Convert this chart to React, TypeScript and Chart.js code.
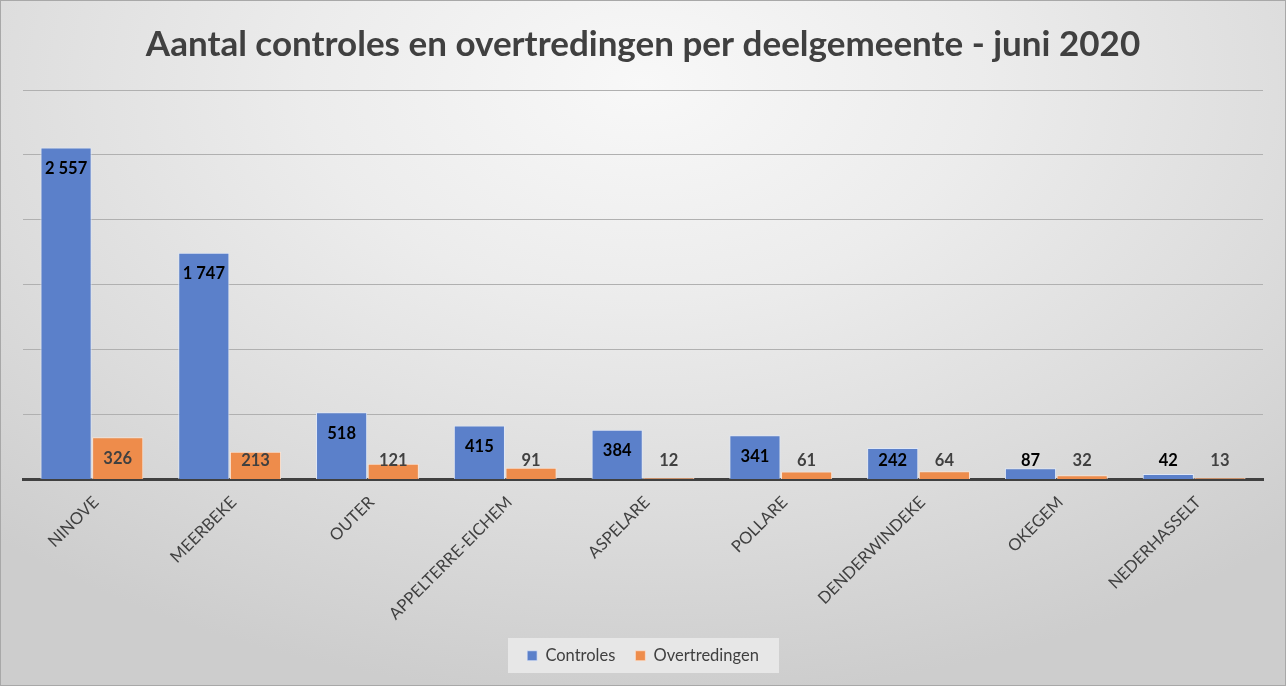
import React, { useEffect, useRef } from "react";
import { Chart, registerables } from "chart.js";

Chart.register(...registerables);

const categories = [
  "NINOVE",
  "MEERBEKE",
  "OUTER",
  "APPELTERRE-EICHEM",
  "ASPELARE",
  "POLLARE",
  "DENDERWINDEKE",
  "OKEGEM",
  "NEDERHASSELT",
];
const controles = [2557, 1747, 518, 415, 384, 341, 242, 87, 42];
const overtredingen = [326, 213, 121, 91, 12, 61, 64, 32, 13];
const seriesNames = ["Controles", "Overtredingen"];
const titleText = "Aantal controles en overtredingen per deelgemeente - juni 2020";

const FONT = "Lato, 'Open Sans', sans-serif";

function fmt(v: number): string {
  return String(v).replace(/\B(?=(\d{3})+(?!\d))/g, " ");
}

const labelPlugin = {
  id: "barLabels",
  beforeDraw(chart: any) {
    const ctx = chart.ctx;
    ctx.save();
    ctx.fillStyle = "rgba(235,235,235,0.85)";
    ctx.fillRect(507, 637, 271, 35);
    ctx.restore();
  },
  afterDatasetsDraw(chart: any) {
    const ctx = chart.ctx;
    const base = chart.scales.y.getPixelForValue(0);
    ctx.save();
    ctx.font = `bold 16.5px ${FONT}`;
    ctx.textAlign = "center";
    ctx.textBaseline = "middle";
    chart.data.datasets.forEach((ds: any, di: number) => {
      const meta = chart.getDatasetMeta(di);
      ctx.fillStyle = di === 0 ? "#000000" : "#404040";
      meta.data.forEach((bar: any, i: number) => {
        const y = Math.min(bar.y + 21, base - 19);
        ctx.fillText(fmt(ds.data[i]), bar.x, y);
      });
    });
    ctx.restore();
  },
};

export default function App() {
  const ref = useRef<HTMLCanvasElement>(null);
  useEffect(() => {
    if (!ref.current) return;
    const chart = new Chart(ref.current, {
      type: "bar",
      data: {
        labels: categories,
        datasets: [
          {
            label: seriesNames[0],
            data: controles,
            backgroundColor: "#5B80CA",
            borderColor: "#dfe7f6",
            borderWidth: { top: 1, left: 1, right: 1, bottom: 0 },
            categoryPercentage: 0.75,
            barPercentage: 0.99,
          },
          {
            label: seriesNames[1],
            data: overtredingen,
            backgroundColor: "#EE8C4B",
            borderColor: "#fbe2d2",
            borderWidth: { top: 1, left: 1, right: 1, bottom: 0 },
            categoryPercentage: 0.75,
            barPercentage: 0.99,
          },
        ],
      },
      plugins: [labelPlugin],
      options: {
        responsive: false,
        animation: false,
        devicePixelRatio: 1,
        layout: { padding: { left: 0, right: 0, top: 0, bottom: 11 } },
        plugins: {
          title: {
            display: true,
            text: titleText,
            color: "#404040",
            font: { family: FONT, size: 35, weight: "bold" },
            padding: { top: 23, bottom: 24 },
          },
          legend: {
            display: true,
            position: "bottom",
            labels: {
              color: "#404040",
              font: { family: FONT, size: 16.5 },
              boxWidth: 10,
              boxHeight: 10,
              padding: 20,
            },
          },
          tooltip: { enabled: false },
        },
        scales: {
          x: {
            grid: { display: false },
            border: { display: true, color: "#404040", width: 3 },
            ticks: {
              color: "#404040",
              font: { family: FONT, size: 16.5 },
              maxRotation: 45,
              minRotation: 45,
              padding: 5,
              labelOffset: 4,
            },
            afterFit(scale: any) {
              scale.height = 148;
            },
          },
          y: {
            min: 0,
            max: 3000,
            ticks: { display: false, stepSize: 500 },
            grid: { color: "#b0b0b0", lineWidth: 1, drawTicks: false },
            border: { display: false },
            afterFit(scale: any) {
              scale.width = 22;
            },
          },
          yRight: {
            position: "right",
            min: 0,
            max: 3000,
            ticks: { display: false },
            grid: { display: false },
            border: { display: false },
            afterFit(scale: any) {
              scale.width = 22;
            },
          },
        },
      },
    });
    return () => chart.destroy();
  }, []);
  return (
    <div
      style={{
        position: "fixed",
        left: 0,
        top: 0,
        width: 1286,
        height: 686,
        boxSizing: "border-box",
        border: "1px solid #a8a8a8",
        background:
          "radial-gradient(ellipse 75% 90% at 50% 12%, #f8f8f8 0%, #ececec 35%, #dcdcdc 70%, #cdcdcd 100%)",
      }}
    >
      <canvas ref={ref} width={1284} height={684} style={{ display: "block" }} />
    </div>
  );
}
